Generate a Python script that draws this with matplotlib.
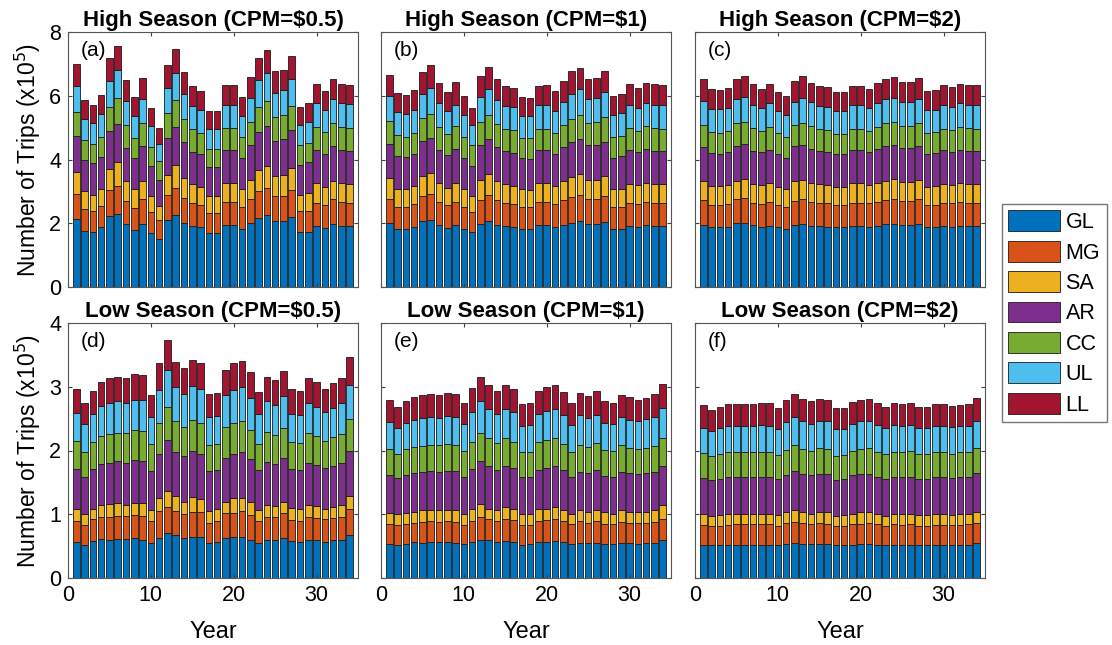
import numpy as np
import matplotlib
matplotlib.use("Agg")
import matplotlib.pyplot as plt

plt.rcParams['font.family'] = ['Liberation Sans', 'DejaVu Sans']

years = np.arange(1, 35)
modes = ["GL", "MG", "SA", "AR", "CC", "UL", "LL"]
colores = ["#0072BD", "#D95319", "#EDB120", "#7E2F8E", "#77AC30", "#4DBEEE", "#A2142F"]

# (a) temporada alta, CPM = 0.5   (valores en x10^5 viajes)
a_GL = [2.13,1.75,1.74,1.87,2.22,2.29,1.97,1.79,1.97,1.69,1.52,2.09,2.27,2.02,1.92,1.87,1.68,1.68,1.94,1.94,1.82,2.01,2.17,2.27,2.07,2.07,2.20,1.71,1.73,1.92,1.84,1.97,1.92,1.92]
a_MG = [0.80,0.69,0.66,0.66,0.81,0.89,0.73,0.70,0.78,0.66,0.59,0.79,0.84,0.78,0.70,0.70,0.65,0.65,0.73,0.73,0.70,0.76,0.83,0.84,0.78,0.79,0.85,0.66,0.67,0.73,0.72,0.78,0.75,0.73]
a_SA = [0.67,0.57,0.49,0.55,0.67,0.73,0.62,0.57,0.59,0.52,0.43,0.62,0.72,0.62,0.60,0.57,0.51,0.51,0.59,0.59,0.55,0.60,0.67,0.70,0.63,0.64,0.67,0.52,0.54,0.61,0.58,0.59,0.59,0.58]
a_AR = [1.14,0.96,0.99,1.01,1.19,1.21,1.05,0.99,1.07,0.93,0.83,1.17,1.20,1.13,1.03,1.02,0.91,0.91,1.05,1.05,0.99,1.09,1.19,1.23,1.11,1.14,1.19,0.93,0.97,1.05,1.02,1.07,1.05,1.05]
a_CC = [0.76,0.65,0.62,0.63,0.76,0.81,0.71,0.63,0.73,0.60,0.57,0.78,0.83,0.73,0.71,0.67,0.59,0.59,0.69,0.69,0.64,0.72,0.78,0.79,0.75,0.75,0.78,0.63,0.62,0.72,0.70,0.72,0.72,0.72]
a_UL = [0.82,0.66,0.65,0.71,0.82,0.88,0.76,0.70,0.76,0.66,0.56,0.79,0.85,0.79,0.73,0.72,0.63,0.63,0.72,0.72,0.67,0.76,0.84,0.87,0.76,0.78,0.84,0.64,0.65,0.73,0.70,0.76,0.73,0.73]
a_LL = [0.69,0.60,0.56,0.59,0.70,0.76,0.65,0.59,0.65,0.57,0.48,0.71,0.77,0.66,0.62,0.60,0.56,0.56,0.61,0.61,0.59,0.65,0.72,0.75,0.67,0.65,0.72,0.57,0.59,0.62,0.60,0.62,0.62,0.62]

# (b) temporada alta, CPM = 1
b_GL = [2.01,1.82,1.82,1.89,2.08,2.10,1.94,1.84,1.94,1.81,1.71,1.99,2.08,1.96,1.91,1.89,1.81,1.81,1.94,1.94,1.89,1.96,2.02,2.08,1.97,1.97,2.05,1.81,1.82,1.91,1.87,1.94,1.91,1.91]
b_MG = [0.76,0.70,0.70,0.70,0.77,0.81,0.73,0.73,0.73,0.71,0.64,0.73,0.82,0.76,0.74,0.71,0.69,0.69,0.73,0.73,0.71,0.76,0.80,0.82,0.78,0.78,0.81,0.69,0.70,0.74,0.73,0.73,0.74,0.74]
b_SA = [0.64,0.57,0.57,0.57,0.62,0.66,0.59,0.55,0.60,0.55,0.52,0.64,0.63,0.60,0.57,0.57,0.56,0.54,0.59,0.59,0.56,0.60,0.62,0.63,0.61,0.61,0.61,0.56,0.57,0.59,0.59,0.59,0.59,0.59]
b_AR = [1.07,1.01,0.99,1.02,1.12,1.09,1.05,1.01,1.06,0.99,0.93,1.10,1.11,1.08,1.04,1.03,0.99,0.99,1.04,1.04,1.02,1.06,1.11,1.11,1.09,1.10,1.09,1.00,1.02,1.06,1.04,1.07,1.04,1.04]
b_CC = [0.73,0.67,0.64,0.65,0.71,0.78,0.70,0.67,0.71,0.64,0.64,0.73,0.75,0.71,0.70,0.73,0.62,0.64,0.67,0.67,0.64,0.70,0.73,0.75,0.71,0.72,0.76,0.64,0.62,0.69,0.67,0.71,0.70,0.67]
b_UL = [0.78,0.71,0.71,0.72,0.77,0.79,0.75,0.73,0.68,0.70,0.63,0.77,0.83,0.76,0.73,0.71,0.69,0.69,0.73,0.74,0.71,0.73,0.78,0.81,0.73,0.76,0.80,0.71,0.72,0.73,0.73,0.72,0.74,0.75]
b_LL = [0.65,0.62,0.60,0.62,0.67,0.72,0.63,0.60,0.70,0.58,0.56,0.65,0.67,0.66,0.62,0.60,0.59,0.58,0.62,0.62,0.61,0.65,0.71,0.66,0.65,0.62,0.67,0.59,0.60,0.64,0.60,0.65,0.64,0.63]

# (c) temporada alta, CPM = 2
c_GL = [1.96,1.87,1.87,1.89,2.01,2.01,1.94,1.87,1.91,1.87,1.82,1.94,1.99,1.92,1.91,1.89,1.87,1.87,1.92,1.92,1.89,1.92,1.97,1.99,1.96,1.94,1.99,1.87,1.87,1.91,1.89,1.92,1.91,1.91]
c_MG = [0.76,0.70,0.70,0.71,0.74,0.78,0.71,0.73,0.76,0.70,0.70,0.76,0.78,0.75,0.71,0.73,0.70,0.70,0.73,0.73,0.73,0.75,0.77,0.78,0.74,0.76,0.76,0.70,0.70,0.74,0.73,0.75,0.74,0.74]
c_SA = [0.60,0.59,0.59,0.59,0.59,0.60,0.59,0.59,0.59,0.57,0.54,0.61,0.60,0.59,0.60,0.59,0.57,0.57,0.61,0.61,0.59,0.59,0.60,0.62,0.59,0.59,0.61,0.57,0.59,0.59,0.59,0.59,0.59,0.59]
c_AR = [1.06,1.04,1.02,1.04,1.09,1.09,1.04,1.04,1.05,1.02,1.00,1.10,1.08,1.07,1.04,1.04,1.02,1.02,1.04,1.04,1.02,1.07,1.07,1.07,1.07,1.07,1.07,1.04,1.04,1.06,1.04,1.05,1.04,1.04]
c_CC = [0.71,0.65,0.65,0.67,0.71,0.71,0.71,0.65,0.70,0.66,0.64,0.67,0.71,0.71,0.70,0.67,0.64,0.64,0.67,0.67,0.67,0.70,0.73,0.72,0.70,0.70,0.71,0.65,0.65,0.67,0.67,0.70,0.70,0.67]
c_UL = [0.75,0.75,0.75,0.73,0.75,0.78,0.73,0.73,0.75,0.71,0.70,0.73,0.78,0.75,0.73,0.74,0.71,0.71,0.73,0.73,0.73,0.73,0.75,0.76,0.73,0.75,0.77,0.72,0.71,0.74,0.74,0.75,0.74,0.75]
c_LL = [0.67,0.62,0.59,0.62,0.65,0.66,0.64,0.61,0.62,0.60,0.58,0.64,0.67,0.62,0.62,0.61,0.61,0.61,0.62,0.62,0.59,0.63,0.65,0.65,0.64,0.63,0.65,0.60,0.62,0.62,0.61,0.62,0.62,0.63]

# (d) temporada baja, CPM = 0.5
d_GL = [0.56,0.52,0.58,0.61,0.59,0.61,0.61,0.62,0.60,0.55,0.63,0.70,0.67,0.62,0.65,0.64,0.55,0.56,0.62,0.64,0.65,0.60,0.55,0.60,0.59,0.63,0.58,0.56,0.59,0.59,0.56,0.59,0.59,0.68]
d_MG = [0.34,0.31,0.34,0.35,0.36,0.37,0.36,0.37,0.38,0.34,0.42,0.42,0.38,0.39,0.39,0.39,0.32,0.33,0.40,0.38,0.40,0.39,0.34,0.36,0.36,0.39,0.33,0.34,0.36,0.35,0.36,0.35,0.36,0.40]
d_SA = [0.18,0.18,0.17,0.18,0.21,0.19,0.18,0.19,0.19,0.18,0.20,0.25,0.23,0.19,0.23,0.21,0.18,0.19,0.18,0.23,0.21,0.20,0.18,0.19,0.18,0.18,0.19,0.18,0.19,0.19,0.17,0.18,0.19,0.20]
d_AR = [0.63,0.57,0.62,0.65,0.64,0.66,0.66,0.67,0.67,0.61,0.70,0.79,0.70,0.71,0.73,0.71,0.63,0.61,0.69,0.70,0.72,0.68,0.62,0.67,0.66,0.68,0.61,0.61,0.66,0.65,0.63,0.64,0.66,0.72]
d_CC = [0.44,0.40,0.42,0.44,0.46,0.45,0.46,0.47,0.46,0.42,0.48,0.52,0.48,0.46,0.48,0.48,0.40,0.41,0.48,0.48,0.49,0.45,0.41,0.47,0.45,0.47,0.42,0.42,0.48,0.44,0.43,0.45,0.46,0.49]
d_UL = [0.44,0.44,0.44,0.47,0.48,0.49,0.48,0.48,0.49,0.42,0.52,0.58,0.53,0.51,0.53,0.54,0.44,0.44,0.50,0.52,0.52,0.51,0.47,0.48,0.48,0.50,0.45,0.45,0.46,0.47,0.46,0.46,0.48,0.53]
d_LL = [0.37,0.33,0.36,0.38,0.39,0.39,0.38,0.40,0.40,0.35,0.42,0.47,0.40,0.41,0.41,0.40,0.36,0.36,0.40,0.43,0.42,0.40,0.35,0.39,0.38,0.40,0.38,0.37,0.39,0.38,0.36,0.39,0.39,0.44]

# (e) temporada baja, CPM = 1
e_GL = [0.54,0.51,0.54,0.56,0.55,0.56,0.56,0.56,0.55,0.53,0.56,0.60,0.59,0.56,0.58,0.56,0.52,0.53,0.56,0.56,0.58,0.56,0.53,0.55,0.55,0.55,0.53,0.53,0.55,0.55,0.54,0.55,0.55,0.59]
e_MG = [0.31,0.32,0.31,0.31,0.33,0.33,0.32,0.33,0.33,0.30,0.34,0.36,0.34,0.34,0.35,0.35,0.31,0.30,0.34,0.35,0.35,0.33,0.31,0.34,0.32,0.35,0.32,0.31,0.33,0.32,0.32,0.32,0.33,0.34]
e_SA = [0.17,0.17,0.17,0.17,0.18,0.17,0.18,0.18,0.18,0.17,0.18,0.20,0.16,0.17,0.18,0.17,0.18,0.18,0.18,0.18,0.18,0.18,0.17,0.17,0.17,0.17,0.18,0.17,0.18,0.17,0.17,0.17,0.18,0.21]
e_AR = [0.60,0.57,0.59,0.61,0.60,0.62,0.61,0.61,0.62,0.59,0.63,0.67,0.66,0.62,0.64,0.64,0.57,0.57,0.62,0.64,0.64,0.62,0.58,0.61,0.60,0.62,0.57,0.58,0.61,0.61,0.60,0.60,0.60,0.62]
e_CC = [0.40,0.37,0.41,0.40,0.41,0.40,0.41,0.42,0.41,0.40,0.43,0.45,0.44,0.42,0.44,0.42,0.40,0.40,0.43,0.44,0.44,0.41,0.39,0.41,0.42,0.42,0.41,0.40,0.41,0.39,0.39,0.40,0.41,0.44]
e_UL = [0.43,0.41,0.41,0.43,0.44,0.44,0.43,0.44,0.44,0.42,0.47,0.49,0.46,0.47,0.46,0.47,0.41,0.42,0.45,0.45,0.46,0.46,0.42,0.47,0.45,0.45,0.42,0.42,0.44,0.44,0.44,0.45,0.45,0.46]
e_LL = [0.35,0.34,0.34,0.36,0.36,0.36,0.36,0.36,0.36,0.34,0.37,0.39,0.37,0.36,0.37,0.36,0.34,0.34,0.35,0.37,0.37,0.36,0.34,0.35,0.35,0.37,0.34,0.34,0.35,0.36,0.34,0.34,0.36,0.38]

# (f) temporada baja, CPM = 2
f_GL = [0.51,0.51,0.51,0.52,0.52,0.52,0.52,0.52,0.52,0.51,0.53,0.55,0.54,0.53,0.54,0.53,0.51,0.51,0.52,0.53,0.54,0.52,0.51,0.52,0.52,0.52,0.51,0.51,0.52,0.51,0.51,0.52,0.52,0.55]
f_MG = [0.32,0.30,0.31,0.31,0.32,0.32,0.32,0.32,0.32,0.31,0.33,0.33,0.32,0.31,0.32,0.32,0.30,0.31,0.32,0.32,0.32,0.32,0.31,0.32,0.31,0.32,0.31,0.31,0.31,0.32,0.32,0.31,0.32,0.31]
f_SA = [0.17,0.17,0.17,0.17,0.16,0.17,0.17,0.17,0.17,0.17,0.17,0.19,0.17,0.17,0.17,0.18,0.17,0.17,0.17,0.18,0.17,0.17,0.16,0.17,0.17,0.17,0.17,0.17,0.17,0.17,0.16,0.17,0.16,0.18]
f_AR = [0.57,0.56,0.57,0.58,0.58,0.57,0.57,0.58,0.57,0.56,0.59,0.61,0.60,0.60,0.60,0.60,0.56,0.56,0.60,0.60,0.60,0.57,0.58,0.57,0.58,0.58,0.57,0.57,0.58,0.58,0.58,0.58,0.58,0.60]
f_CC = [0.39,0.37,0.38,0.39,0.39,0.39,0.39,0.39,0.40,0.38,0.39,0.40,0.40,0.39,0.41,0.39,0.38,0.38,0.39,0.39,0.41,0.40,0.38,0.40,0.40,0.40,0.39,0.38,0.39,0.40,0.38,0.39,0.39,0.40]
f_UL = [0.40,0.40,0.41,0.42,0.42,0.42,0.42,0.42,0.41,0.40,0.44,0.44,0.43,0.42,0.42,0.44,0.41,0.41,0.42,0.44,0.42,0.42,0.41,0.42,0.41,0.41,0.40,0.41,0.42,0.41,0.42,0.42,0.42,0.43]
f_LL = [0.35,0.33,0.34,0.34,0.34,0.34,0.34,0.34,0.35,0.33,0.34,0.36,0.35,0.35,0.35,0.34,0.33,0.33,0.34,0.34,0.35,0.34,0.34,0.34,0.34,0.35,0.34,0.33,0.34,0.34,0.33,0.33,0.34,0.35]

titulos = ["High Season (CPM=\\$0.5)", "High Season (CPM=\\$1)", "High Season (CPM=\\$2)",
           "Low Season (CPM=\\$0.5)", "Low Season (CPM=\\$1)", "Low Season (CPM=\\$2)"]
letras = ["(a)", "(b)", "(c)", "(d)", "(e)", "(f)"]
paneles = [
    [a_GL, a_MG, a_SA, a_AR, a_CC, a_UL, a_LL],
    [b_GL, b_MG, b_SA, b_AR, b_CC, b_UL, b_LL],
    [c_GL, c_MG, c_SA, c_AR, c_CC, c_UL, c_LL],
    [d_GL, d_MG, d_SA, d_AR, d_CC, d_UL, d_LL],
    [e_GL, e_MG, e_SA, e_AR, e_CC, e_UL, e_LL],
    [f_GL, f_MG, f_SA, f_AR, f_CC, f_UL, f_LL],
]

W, H = 1112, 645
fig = plt.figure(figsize=(W / 100, H / 100), dpi=100)

# posiciones de los ejes en pixeles (izq, arriba, ancho, alto)
izq = [68, 381, 695]
arriba = [32, 323]
ancho, alto = 290, 255

for k in range(6):
    fila, col = k // 3, k % 3
    ax = fig.add_axes([izq[col] / W, 1 - (arriba[fila] + alto) / H, ancho / W, alto / H])
    base = np.zeros(len(years))
    for serie, nombre, color in zip(paneles[k], modes, colores):
        ax.bar(years, serie, width=0.8, bottom=base, color=color, edgecolor="#1a1a1a",
               linewidth=0.6, label=nombre)
        base = base + np.array(serie)

    ax.set_xlim(0, 35)
    if fila == 0:
        ax.set_ylim(0, 8)
        ax.set_yticks([0, 2, 4, 6, 8])
    else:
        ax.set_ylim(0, 4)
        ax.set_yticks([0, 1, 2, 3, 4])
    ax.set_xticks([0, 10, 20, 30])
    ax.tick_params(direction="in", top=True, right=True, labelsize=15.5, length=3,
                   color="#404040", pad=5)
    for s in ax.spines.values():
        s.set_color("#555555")
        s.set_linewidth(0.8)
    if col == 0:
        ax.set_ylabel("Number of Trips (x10$^5$)", fontsize=16.5, labelpad=4)
    else:
        ax.set_yticklabels([])
    if fila == 0:
        ax.set_xticklabels([])
    else:
        ax.set_xlabel("Year", fontsize=17, labelpad=11)
    ax.set_title(titulos[k], fontsize=16, fontweight="bold", pad=4)
    ax.text(0.045, 0.965, letras[k], transform=ax.transAxes, fontsize=15, va="top", ha="left")

handles, labels = ax.get_legend_handles_labels()
fig.legend(handles, labels, loc="upper left", bbox_to_anchor=(1002 / W, 1 - 204 / H),
           fontsize=15.5, frameon=True, fancybox=False, edgecolor="#555555",
           handlelength=2.4, handleheight=1.1, labelspacing=0.36, handletextpad=0.25,
           borderpad=0.3, borderaxespad=0)

fig.savefig("out.png", dpi=100)
